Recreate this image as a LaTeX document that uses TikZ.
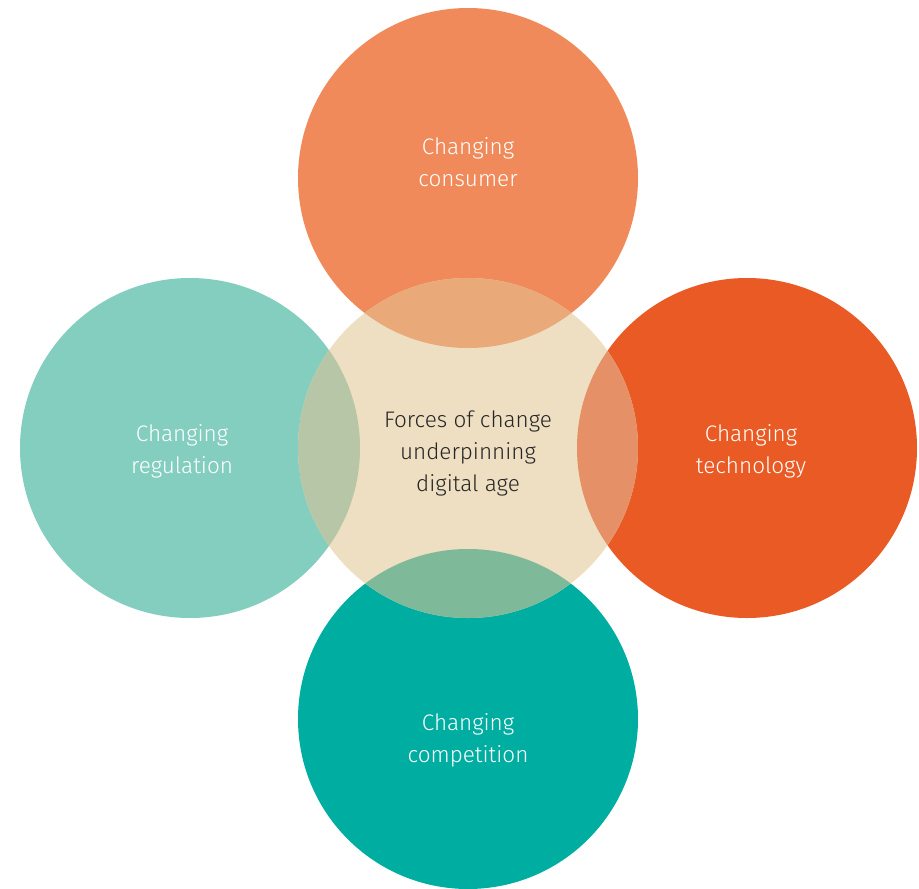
\documentclass[tikz,border=0pt]{standalone}
\usepackage{fontspec}
\setmainfont{Fira Sans}[UprightFont=* Light]
\definecolor{ctop}{HTML}{F08A5B}
\definecolor{ccen}{HTML}{EEDEC2}
\definecolor{cleft}{HTML}{84CEC0}
\definecolor{cright}{HTML}{E95A24}
\definecolor{cbot}{HTML}{00AEA1}
\definecolor{otop}{HTML}{E9A978}
\definecolor{oleft}{HTML}{B6C6A6}
\definecolor{oright}{HTML}{E59066}
\definecolor{obot}{HTML}{7EBA9A}
\begin{document}
\begin{tikzpicture}[x=1pt,y=-1pt,
  lab/.style={font=\fontsize{22.5}{32}\selectfont, align=center, text=white},
  clab/.style={font=\fontsize{22.5}{32}\selectfont, align=center, text=black!85}]
\useasboundingbox (0,0) rectangle (919,889);
\def\R{170}
\coordinate (T) at (468,178);
\coordinate (C) at (468,448);
\coordinate (L) at (190,448);
\coordinate (Rt) at (747,448);
\coordinate (B) at (468,719);
\fill[ctop] (T) circle (\R);
\fill[cleft] (L) circle (\R);
\fill[cright] (Rt) circle (\R);
\fill[cbot] (B) circle (\R);
\fill[ccen] (C) circle (\R);
\begin{scope}\clip (C) circle (\R); \fill[otop] (T) circle (\R); \end{scope}
\begin{scope}\clip (C) circle (\R); \fill[oleft] (L) circle (\R); \end{scope}
\begin{scope}\clip (C) circle (\R); \fill[oright] (Rt) circle (\R); \end{scope}
\begin{scope}\clip (C) circle (\R); \fill[obot] (B) circle (\R); \end{scope}
\node[lab] (ttop) at (468,162) {Changing\\consumer};
\node[lab] (tleft) at (182,451) {Changing\\regulation};
\node[lab] (tright) at (751,451) {Changing\\technology};
\node[lab] (tbot) at (468,740) {Changing\\competition};
\node[clab] (tcen) at (468,453) {Forces of change\\underpinning\\digital age};
\end{tikzpicture}
\end{document}
